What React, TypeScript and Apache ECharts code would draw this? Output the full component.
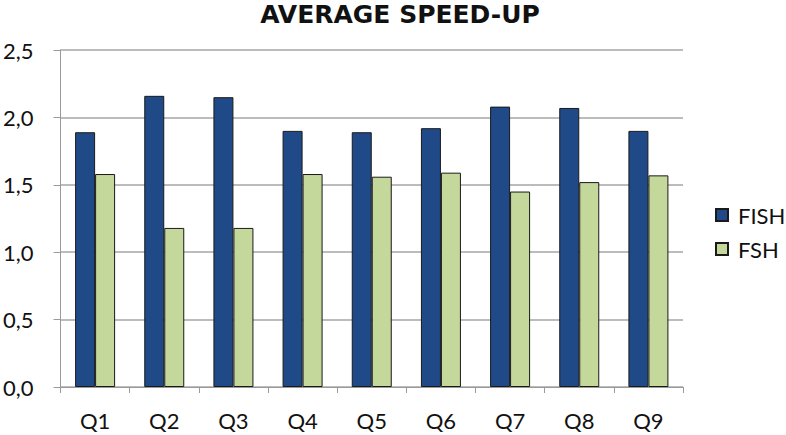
import React, { useEffect, useRef } from "react";
import * as echarts from "echarts";

const categories = ["Q1", "Q2", "Q3", "Q4", "Q5", "Q6", "Q7", "Q8", "Q9"];
const fishValues = [1.89, 2.16, 2.15, 1.9, 1.89, 1.92, 2.08, 2.07, 1.9];
const fshValues = [1.58, 1.18, 1.18, 1.58, 1.56, 1.59, 1.45, 1.52, 1.57];
const seriesNames = ["FISH", "FSH"];
const titleText = "AVERAGE SPEED-UP";

const FONT = "Lato, 'Open Sans', sans-serif";

export default function App() {
  const ref = useRef<HTMLDivElement>(null);
  useEffect(() => {
    if (!ref.current) return;
    const chart = echarts.init(ref.current, null, { renderer: "svg" });
    chart.setOption({
      animation: false,
      backgroundColor: "#ffffff",
      title: {
        text: titleText,
        left: 395,
        textAlign: "center",
        top: -3,
        textStyle: { fontFamily: "'DejaVu Sans', sans-serif", fontSize: 25, fontWeight: "bold", color: "#111" },
      },
      legend: {
        orient: "vertical",
        left: 710,
        top: 198,
        itemWidth: 12,
        itemHeight: 12,
        itemGap: 10,
        icon: "rect",
        textStyle: { fontFamily: FONT, fontSize: 22, color: "#111", lineHeight: 24, padding: [0, 0, 0, 5] },
        data: seriesNames,
      },
      grid: { left: 60, right: 103, top: 50, bottom: 48, containLabel: false },
      xAxis: {
        type: "category",
        data: categories,
        axisLine: { lineStyle: { color: "#9a9a9a", width: 1 } },
        axisTick: { show: true, length: 6, lineStyle: { color: "#9a9a9a" } },
        axisLabel: { fontFamily: FONT, fontSize: 22, color: "#111", margin: 22 },
      },
      yAxis: {
        type: "value",
        min: 0,
        max: 2.5,
        interval: 0.5,
        axisLine: { show: true, lineStyle: { color: "#9a9a9a", width: 1 } },
        axisTick: { show: true, length: 7, lineStyle: { color: "#9a9a9a" } },
        splitLine: { lineStyle: { color: "#a6a6a6", width: 1.5 } },
        axisLabel: {
          fontFamily: FONT,
          fontSize: 22,
          color: "#111",
          margin: 27,
          formatter: (v: number) => v.toFixed(1).replace(".", ","),
        },
      },
      series: [
        {
          name: seriesNames[0],
          type: "bar",
          data: fishValues,
          barWidth: 20,
          barGap: "0%",
          itemStyle: { color: "#1f4a87", borderColor: "#1a1a1a", borderWidth: 1 },
        },
        {
          name: seriesNames[1],
          type: "bar",
          data: fshValues,
          barWidth: 20,
          barGap: "0%",
          itemStyle: { color: "#c4d89c", borderColor: "#1a1a1a", borderWidth: 1 },
        },
      ],
    });
    return () => chart.dispose();
  }, []);
  return <div ref={ref} style={{ width: 786, height: 435, position: "absolute", left: 0, top: 0 }} />;
}
